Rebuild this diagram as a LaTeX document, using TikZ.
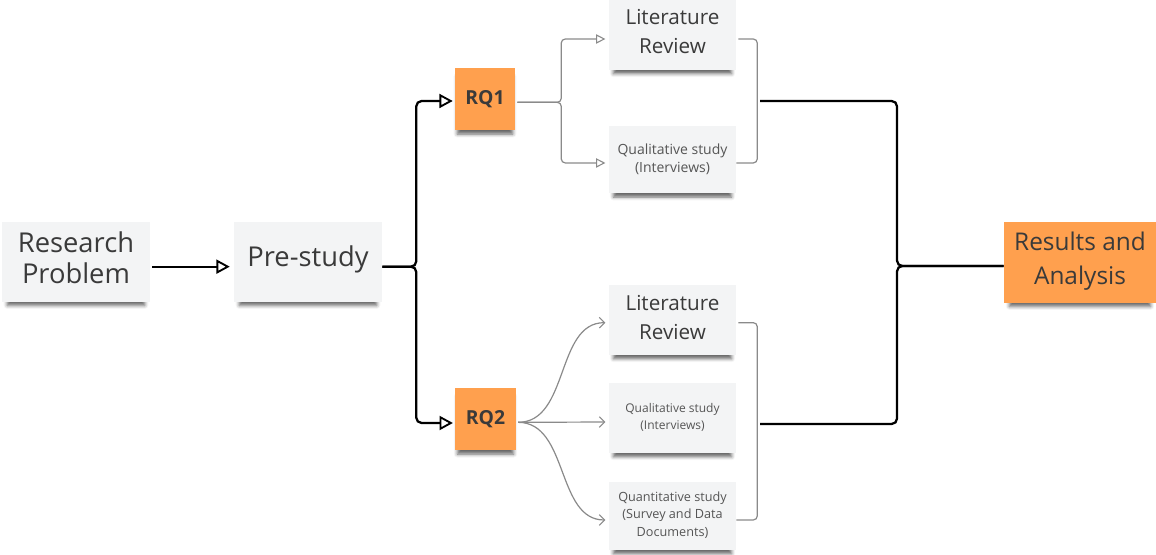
\documentclass[tikz,border=0pt]{standalone}
\usepackage{fontspec}
\setmainfont{Open Sans}
\usetikzlibrary{arrows.meta,shadows.blur,calc}
\definecolor{notegray}{HTML}{F3F4F5}
\definecolor{noteorange}{HTML}{FFA04E}
\definecolor{inktext}{HTML}{3A3A3A}
\definecolor{smalltext}{HTML}{555555}
\definecolor{linkgray}{HTML}{8A8A8A}
% centred lines, optionally lifted a little above the card's middle
\newcommand\cardtext[2][0pt]{\raisebox{#1}[\height][\depth]{\begin{tabular}{@{}c@{}}#2\end{tabular}}}
\begin{document}
\begin{tikzpicture}[x=0.75pt,y=-0.75pt,
  notebase/.style={draw=none, inner sep=0pt,
    blur shadow={shadow xshift=0pt, shadow yshift=-5pt, shadow scale=0.93,
      shadow blur radius=2.8pt, shadow opacity=60}},
  card/.style={notebase, fill=notegray, text=inktext},
  sticky/.style={notebase, fill=noteorange, text=inktext},
  bigfont/.style={font=\fontsize{20.5}{23}\selectfont},
  litfont/.style={font=\fontsize{15.5}{21.75}\selectfont},
  resfont/.style={font=\fontsize{18.3}{25.5}\selectfont},
  rqfont/.style={font=\fontsize{14.5}{17}\selectfont\bfseries},
  mainlink/.style={draw=black, line width=1.7pt, rounded corners=4pt},
  sublink/.style={draw=linkgray, line width=0.9pt, rounded corners=3pt},
  bigtip/.style={-{Triangle[open, length=10pt, width=10.5pt, line width=1.4pt]}},
  smalltip/.style={-{Triangle[open, length=7pt, width=7pt, line width=0.8pt]}},
  barbtip/.style={-{Straight Barb[length=4pt, width=8pt, line width=0.8pt]}}
]
\useasboundingbox (0,0) rectangle (1156,555);
\clip (0,0) rectangle (1156,555);

% left chain
\node[card, bigfont, minimum width=111pt, minimum height=60pt] (problem) at (76,262) {\cardtext{Research\\Problem}};
\node[card, bigfont, minimum width=111pt, minimum height=60pt] (prestudy) at (308,262) {\cardtext[1pt]{Pre-study}};

% research questions
\node[sticky, rqfont, minimum width=45pt, minimum height=46.5pt] (rq1) at (485,99) {RQ1};
\node[sticky, rqfont, minimum width=45.5pt, minimum height=46.5pt] (rq2) at (485.5,419) {RQ2};

% methods for RQ1
\node[card, litfont, minimum width=95.25pt, minimum height=52.5pt] (lit1) at (672.5,35) {\cardtext[1pt]{Literature\\Review}};
\node[card, text=smalltext, font=\fontsize{10.5}{13.5}\selectfont, minimum width=95.25pt, minimum height=50.5pt] (qual1) at (672.5,159.5) {\cardtext{Qualitative study\\(Interviews)}};

% methods for RQ2
\node[card, litfont, minimum width=95.25pt, minimum height=52.5pt] (lit2) at (672.5,320) {\cardtext[0.5pt]{Literature\\Review}};
\node[card, text=smalltext, font=\fontsize{9}{12.75}\selectfont, minimum width=95.25pt, minimum height=52.5pt] (qual2) at (672.5,418) {\cardtext[0.5pt]{Qualitative study\\(Interviews)}};
\node[card, text=smalltext, font=\fontsize{9.5}{13}\selectfont, minimum width=95.25pt, minimum height=51pt] (quant) at (672.5,516) {\cardtext[0.5pt]{Quantitative study\\(Survey and Data\\Documents)}};

% outcome
\node[sticky, resfont, minimum width=114pt, minimum height=60.75pt] (results) at (1080,262.5) {\cardtext[1.5pt]{Results and\\Analysis}};

% main flow
\draw[mainlink, bigtip, shorten <=1.5pt, shorten >=3pt]
  ([yshift=-3.5pt]problem.east) -- ([yshift=-3.5pt]prestudy.west);
\draw[mainlink, bigtip, shorten >=1.5pt]
  ([yshift=-3.5pt]prestudy.east) -- ++(34,0) |- ([yshift=-1.5pt]rq1.west);
\draw[mainlink, bigtip, shorten >=1.5pt]
  ([yshift=-3.5pt]prestudy.east) -- ++(34,0) |- ([yshift=-3pt]rq2.west);

% RQ1 branches
\draw[sublink, smalltip, shorten <=1.5pt, shorten >=2.5pt]
  ([yshift=-2.5pt]rq1.east) -- ++(46,0) |- ([yshift=-3pt]lit1.west);
\draw[sublink, smalltip, shorten <=1.5pt, shorten >=2.5pt]
  ([yshift=-2.5pt]rq1.east) -- ++(46,0) |- ([yshift=-2.6pt]qual1.west);
\draw[sublink, shorten <=1.5pt]
  ([yshift=-3pt]lit1.east) -- ++(21,0) |- ([yshift=-2.6pt]qual1.east);

% RQ2 branches
\draw[sublink, barbtip, shorten <=1.5pt, shorten >=2.5pt]
  ([yshift=-2.5pt]rq2.east) to[out=0, in=180] ([yshift=-2pt]lit2.west);
\draw[sublink, barbtip, shorten <=1.5pt, shorten >=2.5pt]
  ([yshift=-2.5pt]rq2.east) -- ([yshift=-3pt]qual2.west);
\draw[sublink, barbtip, shorten <=1.5pt, shorten >=2.5pt]
  ([yshift=-2.5pt]rq2.east) to[out=0, in=180] ([yshift=-3pt]quant.west);
\draw[sublink, shorten <=1.5pt]
  ([yshift=-2pt]lit2.east) -- ++(21,0) |- ([yshift=-3pt]quant.east);

% merge into results
\coordinate (top) at (760,101);
\coordinate (bottom) at (760,424);
\coordinate (hub) at (897,266);
\draw[mainlink] (top) -| (hub) -- (hub -| results.west);
\draw[mainlink] (bottom) -| (hub) -- (hub -| results.west);
\end{tikzpicture}
\end{document}
